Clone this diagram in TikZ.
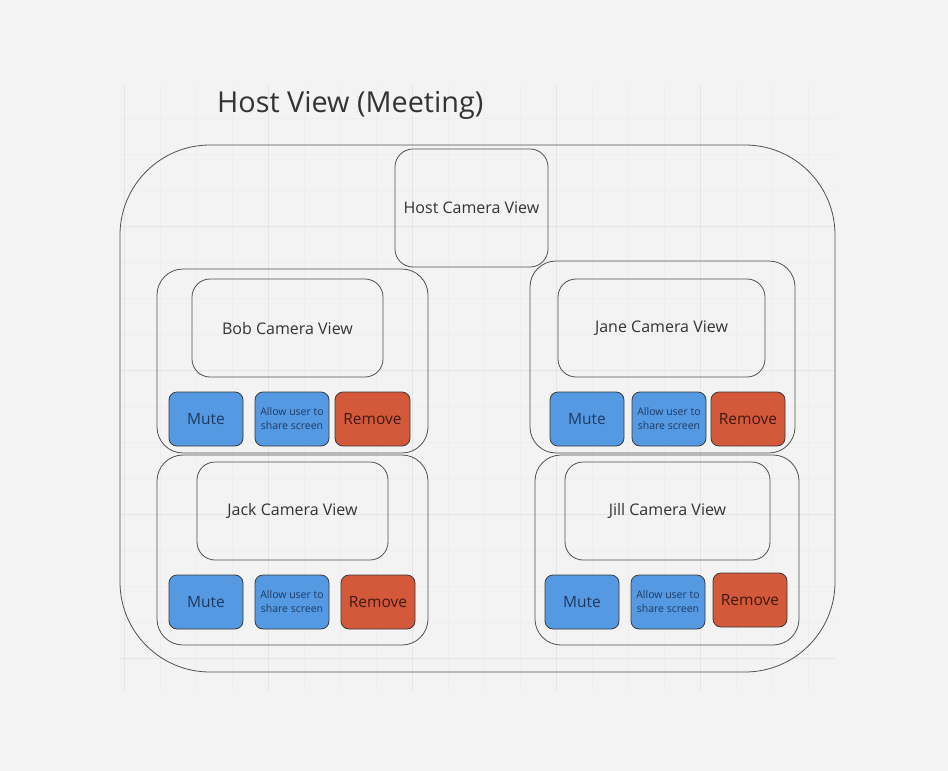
\documentclass[tikz,border=0pt]{standalone}
\usepackage{fontspec}
\setmainfont{Open Sans}
\definecolor{bg}{HTML}{F3F3F3}
\definecolor{gridmaj}{HTML}{E5E5E5}
\definecolor{gridmin}{HTML}{EEEEEE}
\definecolor{frame}{HTML}{505050}
\definecolor{btnline}{HTML}{3A3A3A}
\definecolor{btnblue}{HTML}{5599E2}
\definecolor{btnred}{HTML}{D4583A}
\definecolor{bluetext}{HTML}{1E3A60}
\definecolor{redtext}{HTML}{3E1A12}
\definecolor{labeltext}{HTML}{333333}
\tikzset{
  outerbox/.style={draw=frame, line width=0.8pt, rounded corners=90pt, inner sep=0pt},
  grpbox/.style={draw=frame, line width=0.8pt, rounded corners=26pt, inner sep=0pt},
  cambox/.style={draw=frame, line width=0.8pt, rounded corners=18pt, inner sep=0pt,
     text=labeltext, font=\fontsize{16}{19}\selectfont},
  btnbox/.style={draw=btnline, line width=0.8pt, rounded corners=8pt, inner sep=0pt,
     minimum width=74pt, minimum height=54pt},
  mutebtn/.style={btnbox, fill=btnblue, text=bluetext, font=\fontsize{15.5}{18}\selectfont},
  sharebtn/.style={btnbox, fill=btnblue, text=bluetext, align=center, font=\fontsize{10.5}{14}\selectfont},
  removebtn/.style={btnbox, fill=btnred, text=redtext, font=\fontsize{15.5}{18}\selectfont},
}
\begin{document}
\begin{tikzpicture}[x=1pt, y=-1pt]
\fill[bg] (0,0) rectangle (948,771);
\useasboundingbox (0,0) rectangle (948,771);
% grid
\begin{scope}
\clip (120,85) rectangle (835,690);
\foreach \gx in {124,160,...,844} \draw[gridmin, line width=0.6pt] (\gx,85) -- (\gx,690);
\foreach \gy in {82,118,...,694} \draw[gridmin, line width=0.6pt] (120,\gy) -- (835,\gy);
\foreach \gx in {124,268,...,844} \draw[gridmaj, line width=0.9pt] (\gx,85) -- (\gx,690);
\foreach \gy in {82,226,...,694} \draw[gridmaj, line width=0.9pt] (120,\gy) -- (835,\gy);
\end{scope}
% title
\node[anchor=west, text=labeltext, font=\fontsize{28.8}{33}\selectfont, inner sep=0pt] (title) at (217,105) {Host View (Meeting)};
% outer frame
\node[outerbox, minimum width=715pt, minimum height=527pt] (outer) at (477.5,408.5) {};
% host camera
\node[cambox, minimum width=153pt, minimum height=118pt] (hostcam) at (471.5,208) {Host Camera View};
% groups
\node[grpbox, minimum width=271pt, minimum height=184pt] (bobgrp) at (292.5,361) {};
\node[grpbox, minimum width=265pt, minimum height=192pt] (janegrp) at (662.5,357) {};
\node[grpbox, minimum width=271pt, minimum height=190pt] (jackgrp) at (292.5,550) {};
\node[grpbox, minimum width=264pt, minimum height=190pt] (jillgrp) at (667,550) {};
% camera views
\node[cambox, minimum width=191pt, minimum height=98pt] (bobcam) at (287.5,328) {Bob Camera View};
\node[cambox, minimum width=207pt, minimum height=98pt] (janecam) at (661.5,328) {Jane Camera View};
\node[cambox, minimum width=191pt, minimum height=98pt] (jackcam) at (292.5,511) {Jack Camera View};
\node[cambox, minimum width=205pt, minimum height=98pt] (jillcam) at (667.5,511) {Jill Camera View};
% Bob buttons
\node[mutebtn] (bobmute) at (206,419) {Mute};
\node[sharebtn] (bobshare) at (292,419) {Allow user to\\share screen};
\node[removebtn, minimum width=75pt] (bobremove) at (372.5,419) {Remove};
% Jane buttons
\node[mutebtn] (janemute) at (587,419) {Mute};
\node[sharebtn] (janeshare) at (669,419) {Allow user to\\share screen};
\node[removebtn] (janeremove) at (748,419) {Remove};
% Jack buttons
\node[mutebtn] (jackmute) at (206,602) {Mute};
\node[sharebtn] (jackshare) at (292,602) {Allow user to\\share screen};
\node[removebtn] (jackremove) at (378,602) {Remove};
% Jill buttons
\node[mutebtn] (jillmute) at (582,602) {Mute};
\node[sharebtn] (jillshare) at (668,602) {Allow user to\\share screen};
\node[removebtn] (jillremove) at (750,600) {Remove};
\end{tikzpicture}
\end{document}
